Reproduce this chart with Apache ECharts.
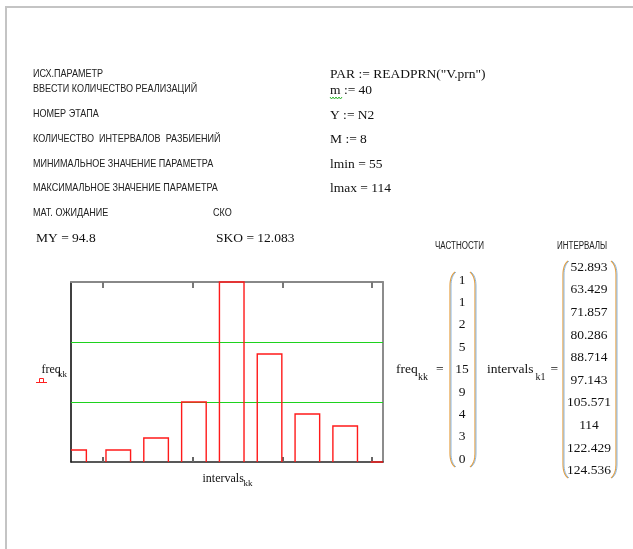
<!DOCTYPE html>
<html>
<head>
<meta charset="utf-8">
<script src="https://cdn.jsdelivr.net/npm/echarts@6/dist/echarts.min.js"></script>
<style>
html,body{margin:0;padding:0;background:#fff;}
#c{width:633px;height:549px;}
</style>
</head>
<body>
<div id="c"></div>
<script>
// ---- data ----
const intervals = [52.893, 63.429, 71.857, 80.286, 88.714, 97.143, 105.571, 114, 122.429, 124.536];
const freq = [1, 1, 2, 5, 15, 9, 4, 3, 0];
const xTicks = [60, 80, 100, 120];
const greenLevels = [5, 10];
const labelsRu = [
  'ИСХ.ПАРАМЕТР',
  'ВВЕСТИ КОЛИЧЕСТВО РЕАЛИЗАЦИЙ',
  'НОМЕР ЭТАПА',
  'КОЛИЧЕСТВО  ИНТЕРВАЛОВ  РАЗБИЕНИЙ',
  'МИНИМАЛЬНОЕ ЗНАЧЕНИЕ ПАРАМЕТРА',
  'МАКСИМАЛЬНОЕ ЗНАЧЕНИЕ ПАРАМЕТРА',
  'МАТ. ОЖИДАНИЕ'
];
const mathLines = ['PAR := READPRN("V.prn")', 'm := 40', 'Y := N2', 'M := 8', 'lmin = 55', 'lmax = 114'];
const MY = 94.8;
const SKO = 12.083;

// ---- helpers ----
const n = freq.length;
const xMin = intervals[0], xMax = intervals[n - 1];
const barData = freq.map((f, i) => {
  const gap = i < n - 1 ? intervals[i + 1] - intervals[i] : intervals[i] - intervals[i - 1];
  return [intervals[i], f, 0.65 * gap];
});

const SERIF = '"Liberation Serif","Times New Roman",serif';
const SANS = '"Liberation Sans",Arial,sans-serif';
const g = [];
function txt(x, y, s, font, align) {
  g.push({ type: 'text', x: x, y: y, silent: true,
    style: { text: s, font: font, fill: '#111', align: align || 'left', verticalAlign: 'middle' } });
}
function ru(x, y, s, size, sc) {
  g.push({ type: 'text', x: x, y: y, scaleX: sc || 0.8, silent: true,
    style: { text: s, font: (size || 11.3) + 'px ' + SANS, fill: '#222', align: 'left', verticalAlign: 'middle' } });
}
function quad(p0, c, p1, out) {
  for (let k = 0; k <= 8; k++) {
    const t = k / 8, a = (1 - t) * (1 - t), b = 2 * (1 - t) * t, d = t * t;
    out.push([a * p0[0] + b * c[0] + d * p1[0], a * p0[1] + b * c[1] + d * p1[1]]);
  }
}
function paren(x, top, bot, left) {
  const s = left ? 1 : -1;
  const pts = [];
  quad([x + 5 * s, top], [x, top + 4], [x, top + 14], pts);
  quad([x, bot - 14], [x, bot - 4], [x + 5 * s, bot], pts);
  g.push({ type: 'polyline', silent: true, shape: { points: pts }, style: { fill: null, stroke: '#e8a040', lineWidth: 1.2 } });
  g.push({ type: 'polyline', silent: true, x: 1, shape: { points: pts }, style: { fill: null, stroke: '#7fb0e0', lineWidth: 0.9 } });
}

// page frame
g.push({ type: 'line', silent: true, shape: { x1: 6, y1: 7, x2: 633, y2: 7 }, style: { stroke: '#c4c4c4', lineWidth: 2 } });
g.push({ type: 'line', silent: true, shape: { x1: 6, y1: 6, x2: 6, y2: 549 }, style: { stroke: '#c4c4c4', lineWidth: 2 } });

// russian labels
const ruY = [73.7, 88.5, 113.8, 139, 164, 187.5, 213];
labelsRu.forEach((s, i) => ru(33, ruY[i], s));
ru(213, 213, 'СКО');

// math lines
const mY = [74.3, 90.7, 115, 139.6, 164.6, 188.8];
mathLines.forEach((s, i) => txt(330, mY[i], s, '13.5px ' + SERIF));
// green squiggle under m
g.push({ type: 'polyline', silent: true, shape: { points: [[330,97],[331.5,99],[333,97],[334.5,99],[336,97],[337.5,99],[339,97],[340.5,99],[342,97]] }, style: { stroke: '#2fb52f', lineWidth: 1, fill: null } });

txt(36, 238.3, 'MY = ' + MY, '13.5px ' + SERIF);
txt(216, 238.3, 'SKO = ' + SKO, '13.5px ' + SERIF);

ru(435, 246, 'ЧАСТНОСТИ', 10, 0.8);
ru(557, 246, 'ИНТЕРВАЛЫ', 10, 0.8);

// freq vector
txt(396, 369, 'freq', '13.5px ' + SERIF);
txt(418, 377, 'kk', '10px ' + SERIF);
txt(436, 369, '=', '13.5px ' + SERIF);
freq.forEach((v, i) => txt(462, 280 + i * 22.4, String(v), '13.5px ' + SERIF, 'center'));
paren(450, 272, 467, true);
paren(475, 272, 467, false);

// intervals vector
txt(487, 369, 'intervals', '13.5px ' + SERIF);
txt(535.5, 377, 'k1', '10px ' + SERIF);
txt(550.5, 369, '=', '13.5px ' + SERIF);
intervals.forEach((v, i) => txt(589, 267.3 + i * 22.6, String(v), '13.5px ' + SERIF, 'center'));
paren(563, 261, 478, true);
paren(616, 261, 478, false);

// chart axis titles
txt(41.5, 370, 'freq', '12px ' + SERIF);
txt(58, 375, 'kk', '9px ' + SERIF);
g.push({ type: 'line', silent: true, shape: { x1: 36, y1: 382.5, x2: 47, y2: 382.5 }, style: { stroke: '#ff2020', lineWidth: 1 } });
g.push({ type: 'polyline', silent: true, shape: { points: [[39.5, 382.5], [39.5, 378.5], [43.5, 378.5], [43.5, 382.5]] }, style: { stroke: '#ff2020', lineWidth: 1, fill: null } });
txt(202.5, 478.5, 'intervals', '12px ' + SERIF);
txt(243.5, 483.5, 'kk', '9px ' + SERIF);

const chart = echarts.init(document.getElementById('c'), null, { renderer: 'canvas' });
const axisCommon = {
  type: 'value', min: xMin, max: xMax,
  splitLine: { show: false }, axisLabel: { show: false }
};
chart.setOption({
  animation: false,
  backgroundColor: '#fff',
  grid: { left: 71, top: 282, width: 312, height: 180, containLabel: false },
  xAxis: [
    Object.assign({}, axisCommon, {
      position: 'bottom',
      axisLine: { show: true, onZero: false, lineStyle: { color: '#222', width: 1.5 } },
      axisTick: { show: true, inside: true, length: 5, customValues: xTicks, lineStyle: { color: '#666', width: 2 } }
    }),
    Object.assign({}, axisCommon, {
      position: 'top',
      axisLine: { show: true, onZero: false, lineStyle: { color: '#888', width: 2 } },
      axisTick: { show: true, inside: true, length: 6, customValues: xTicks, lineStyle: { color: '#777', width: 2 } }
    })
  ],
  yAxis: [
    { type: 'value', min: 0, max: Math.max.apply(null, freq), position: 'left',
      splitLine: { show: false }, axisLabel: { show: false }, axisTick: { show: false },
      axisLine: { show: true, onZero: false, lineStyle: { color: '#000', width: 1.5 } } },
    { type: 'value', min: 0, max: Math.max.apply(null, freq), position: 'right',
      splitLine: { show: false }, axisLabel: { show: false }, axisTick: { show: false },
      axisLine: { show: true, onZero: false, lineStyle: { color: '#666', width: 1.5 } } }
  ],
  series: [{
    type: 'custom',
    xAxisIndex: 0, yAxisIndex: 0,
    z: 5,
    data: barData,
    renderItem: function (params, api) {
      const x = api.value(0), y = api.value(1), w = api.value(2);
      const l = Math.max(x - w / 2, xMin), r = Math.min(x + w / 2, xMax);
      const pL0 = api.coord([l, 0]), pLT = api.coord([l, y]);
      const pR0 = api.coord([r, 0]), pRT = api.coord([r, y]);
      const pts = [];
      if (x - w / 2 >= xMin) pts.push(pL0);
      pts.push(pLT, pRT);
      if (x + w / 2 <= xMax) pts.push(pR0);
      return { type: 'polyline', shape: { points: pts }, style: { stroke: '#ff1a1a', lineWidth: 1.4, fill: null } };
    },
    markLine: {
      silent: true, symbol: 'none', label: { show: false }, animation: false,
      lineStyle: { color: '#1ed21e', width: 1.2, type: 'solid' },
      data: greenLevels.map(v => ({ yAxis: v }))
    }
  }],
  graphic: g
});
</script>
</body>
</html>
